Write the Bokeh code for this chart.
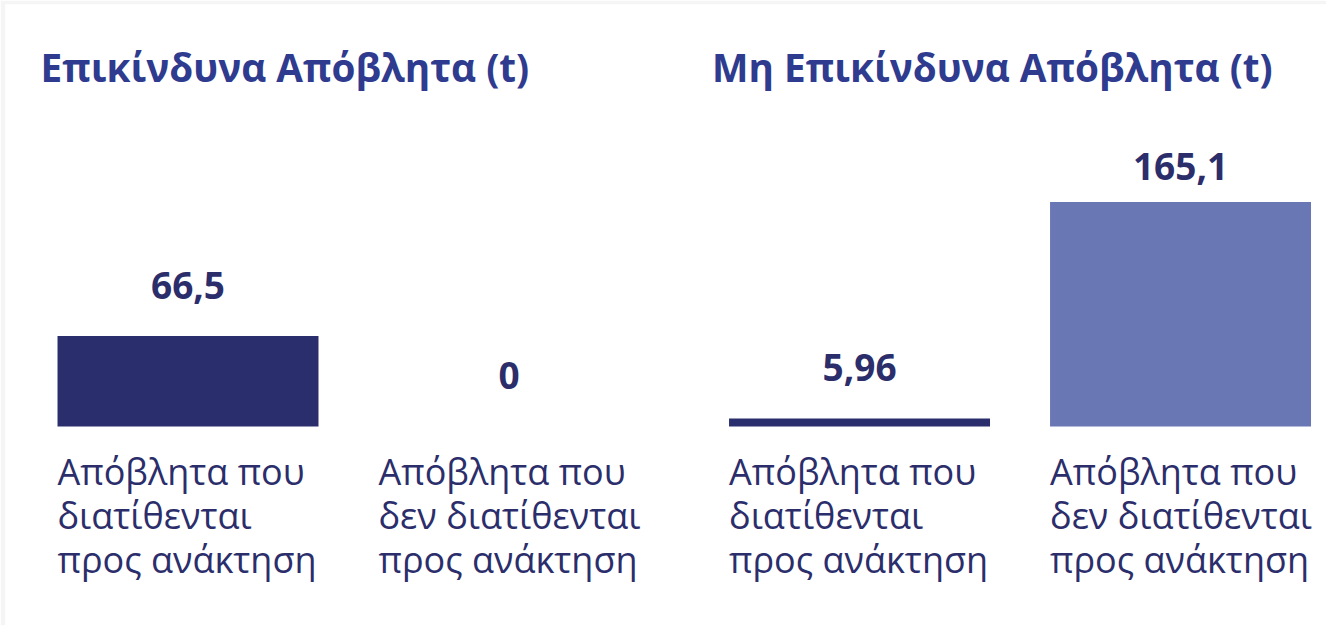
from bokeh.plotting import figure
from bokeh.models import Range1d, ColumnDataSource
from bokeh.core.properties import value
from bokeh.embed import file_html
from bokeh.resources import INLINE

# ---- data ----
groups = ["Επικίνδυνα Απόβλητα (t)", "Μη Επικίνδυνα Απόβλητα (t)"]
categories = [
    "Απόβλητα που\nδιατίθενται\nπρος ανάκτηση",
    "Απόβλητα που\nδεν διατίθενται\nπρος ανάκτηση",
    "Απόβλητα που\nδιατίθενται\nπρος ανάκτηση",
    "Απόβλητα που\nδεν διατίθενται\nπρος ανάκτηση",
]
group_of = [0, 0, 1, 1]
values = [66.5, 0.0, 5.96, 165.1]
value_labels = ["66,5", "0", "5,96", "165,1"]
bar_colors = ["#2b2e6c", "#2b2e6c", "#2b2e6c", "#6a77b5"]

# ---- layout helpers ----
TITLE_COLOR = "#2e3b8e"
TEXT_COLOR = "#2b2e6b"
FONT = "Open Sans"
GROUP_GAP = 0.092
BAR_W = 0.813

xs = []
k_in_group = {}
for i, g in enumerate(group_of):
    k = k_in_group.get(g, 0)
    k_in_group[g] = k + 1
    xs.append(2 * g + k + g * GROUP_GAP)
lefts = [x - BAR_W / 2 for x in xs]

LABEL_OFF = 37.5
LABEL_CAP = 191.0
label_y = [min(v + LABEL_OFF, LABEL_CAP) for v in values]

W, H = 1326, 625
frame_w, frame_h = W - 5, H - 4
slot_px = 321.0
x_start = -182.5 / slot_px
x_end = x_start + frame_w / slot_px
px_per_unit = 1.36
y_start = -199 / px_per_unit
y_end = 422 / px_per_unit

p = figure(width=W, height=H, output_backend="svg", toolbar_location=None,
           x_range=Range1d(x_start, x_end), y_range=Range1d(y_start, y_end),
           x_axis_location=None, y_axis_location=None,
           min_border_left=5, min_border_top=4, min_border_right=0, min_border_bottom=0)
p.grid.visible = False
p.outline_line_color = None
p.background_fill_color = "white"
p.border_fill_color = "#f5f5f5"

src = ColumnDataSource(dict(x=xs, top=values, color=bar_colors, left=lefts,
                            cat=categories, lab=value_labels, ly=label_y))

p.vbar(x="x", top="top", bottom=0, width=BAR_W, color="color", line_color=None, source=src)

# value labels
p.text(x="x", y="ly", text="lab", source=src, text_align="center", text_baseline="alphabetic",
       text_font=value(FONT), text_font_style="bold", text_font_size="37px", text_color=TEXT_COLOR)

# category labels
p.text(x="left", y=0, text="cat", source=src, text_align="left", text_baseline="top",
       y_offset=20, text_line_height=0.9,
       text_font=value(FONT), text_font_size="36px", text_color=TEXT_COLOR)

# group titles
title_x = []
for gi in range(len(groups)):
    first = group_of.index(gi)
    title_x.append(lefts[first])
p.text(x=title_x, y=[264.0] * len(groups), text=groups, x_offset=-17,
       text_align="left", text_baseline="alphabetic",
       text_font=value(FONT), text_font_style="bold", text_font_size="38.7px", text_color=TITLE_COLOR)

html = file_html(p, INLINE)
html = html.replace("<body>", '<body style="background:#f5f5f5;">', 1)
open("out.html", "w").write(html)
